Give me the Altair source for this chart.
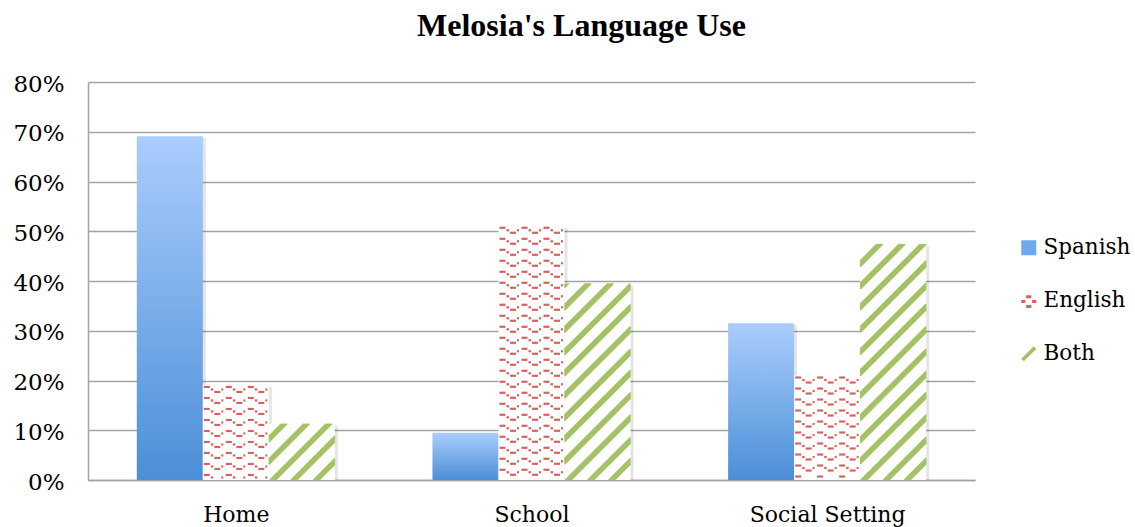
import json

import altair as alt
import pandas as pd

# Survey results (percent of use per setting)
categories = ["Home", "School", "Social Setting"]
series = ["Spanish", "English", "Both"]
spanish = [69.1, 9.5, 31.5]
english = [19.1, 51.1, 21.0]
both = [11.3, 39.5, 47.4]
y_ticks = [0, 10, 20, 30, 40, 50, 60, 70, 80]

rows = []
for ci, cat in enumerate(categories):
    for si, (name, vals) in enumerate(zip(series, [spanish, english, both])):
        rows.append({"cat": cat, "ci": ci, "series": name, "si": si, "value": vals[ci]})
df = pd.DataFrame(rows)

# Plot geometry
W, H = 887, 398
LEFT, TOP = 88, 82
TOTAL_W, TOTAL_H = 1135, 527
YMAX = 80
NCAT = len(categories)
SX = W / NCAT          # pixels per category unit
SY = H / YMAX          # pixels per percent
OUTER = 0.165          # gap before the first bar of a group (category units)
BW = (1 - 2 * OUTER) / len(series)

BLUE_TOP, BLUE_BOTTOM = "#aacdfd", "#4b8fd7"
RED = "#d5625c"
GREEN = "#a3c264"
GRID = "#a3a3a3"
SERIF = "DejaVu Serif"

x_enc = alt.X(
    "xa:Q",
    scale=alt.Scale(domain=[0, NCAT], nice=False, zero=False),
    axis=alt.Axis(
        values=[i + 0.5 for i in range(NCAT)],
        labelExpr=json.dumps(categories) + "[floor(datum.value)]",
        title=None,
        grid=False,
        ticks=False,
        tickSize=0,
        labelPadding=24,
        labelFontSize=22,
    ),
)
y_enc = alt.Y(
    "ya:Q",
    scale=alt.Scale(domain=[0, YMAX], nice=False),
    axis=alt.Axis(
        values=y_ticks,
        labelExpr="datum.value + '%'",
        title=None,
        grid=True,
        ticks=False,
        tickSize=0,
        labelPadding=24,
        labelFontSize=23,
        labelOffset=2,
    ),
)

base = alt.Chart(df).transform_calculate(
    bx=f"datum.ci + {OUTER} + datum.si * {BW}",
    w=f"{BW * SX}",
    h=f"datum.value * {SY}",
)

bars = base.transform_calculate(
    xa="datum.bx", xb=f"datum.bx + {BW}", ya="0", yb="datum.value"
)

shadow = bars.mark_bar(color="#000000", opacity=0.10, xOffset=2, x2Offset=3, y2Offset=2).encode(
    x=x_enc, x2="xb:Q", y=y_enc, y2="yb:Q"
)

spanish_bars = bars.transform_filter("datum.si == 0").mark_bar(
    color=alt.LinearGradient(
        gradient="linear",
        stops=[
            alt.GradientStop(color=BLUE_TOP, offset=0),
            alt.GradientStop(color=BLUE_BOTTOM, offset=1),
        ],
        x1=0, x2=0, y1=0, y2=1,
    )
).encode(x=x_enc, x2="xb:Q", y=y_enc, y2="yb:Q")

white_bars = bars.transform_filter("datum.si > 0").mark_bar(color="#ffffff").encode(
    x=x_enc, x2="xb:Q", y=y_enc, y2="yb:Q"
)

# Diagonal stripes for "Both": thin parallel strokes grouped into bands
STRIPE_PERIOD, STRIPE_WIDTH, STRIPE_STEP = 22, 7, 1.4
stripes = (
    base.transform_filter("datum.si == 2")
    .transform_calculate(cs=f"sequence(-datum.h, datum.w, {STRIPE_STEP})")
    .transform_flatten(["cs"], as_=["c"])
    .transform_filter(f"((datum.c % {STRIPE_PERIOD}) + {STRIPE_PERIOD}) % {STRIPE_PERIOD} < {STRIPE_WIDTH}")
    .transform_calculate(u0="max(0, datum.c)", u1="min(datum.w, datum.h + datum.c)")
    .transform_filter("datum.u1 > datum.u0 + 0.2")
    .transform_calculate(
        xa=f"datum.bx + datum.u0 / {SX}",
        xb=f"datum.bx + datum.u1 / {SX}",
        ya=f"(datum.u0 - datum.c) / {SY}",
        yb=f"(datum.u1 - datum.c) / {SY}",
    )
    .mark_rule(color=GREEN, strokeWidth=1.6, strokeCap="butt")
    .encode(x=x_enc, x2="xb:Q", y=y_enc, y2="yb:Q")
)

# Wavy dashed pattern for "English"
WAVE_W, ROW_H = 22, 11
dashes = (
    base.transform_filter("datum.si == 1")
    .transform_calculate(
        nw=f"floor(datum.w / {WAVE_W})",
        nr=f"floor((datum.h - 2) / {ROW_H}) + 1",
    )
    .transform_calculate(ns="sequence(0, datum.nr * datum.nw * 4)")
    .transform_flatten(["ns"], as_=["n"])
    .transform_calculate(
        r="floor(datum.n / (datum.nw * 4))",
        j="floor(datum.n / 4) % datum.nw",
        e="datum.n % 4",
    )
    .transform_calculate(
        u0=f"1 + datum.j * {WAVE_W} + [0, 7, 10.5, 17.5][datum.e]",
        u1=f"1 + datum.j * {WAVE_W} + [6, 9.5, 16.5, 19.5][datum.e]",
        v=f"datum.h - 2 - datum.r * {ROW_H} - [0, 2.5, 5, 2.5][datum.e]",
    )
    .transform_filter("datum.v >= 1.5")
    .transform_calculate(
        xa=f"datum.bx + datum.u0 / {SX}",
        xb=f"datum.bx + datum.u1 / {SX}",
        ya=f"datum.v / {SY}",
    )
    .mark_rule(color=RED, strokeWidth=2.2, strokeCap="butt")
    .encode(x=x_enc, x2="xb:Q", y=y_enc)
)

# Legend entries
ENGLISH_SYMBOL = (
    "M-1,-0.1 L-0.45,-0.1 L-0.45,0.3 L-1,0.3 Z "
    "M0.45,-0.1 L1,-0.1 L1,0.3 L0.45,0.3 Z "
    "M-0.35,-0.75 L0.35,-0.75 L0.35,-0.35 L-0.35,-0.35 Z "
    "M-0.35,0.55 L0.35,0.55 L0.35,0.95 L-0.35,0.95 Z"
)
BOTH_SYMBOL = "M-1,0.65 L0.65,-1 L1,-0.65 L-0.65,1 Z"
legend_props = dict(
    title=None,
    orient="none",
    legendX=930,
    legendY=155,
    labelFont=SERIF,
    labelFontSize=21.5,
    labelColor="#000000",
    labelOffset=4,
    labelLimit=0,
    symbolSize=225,
    symbolStrokeWidth=0,
    rowPadding=30,
)
legend_layer = (
    alt.Chart(pd.DataFrame({"series": series}))
    .transform_filter("false")
    .mark_point(filled=True, opacity=1)
    .encode(
        x=alt.value(0),
        y=alt.value(0),
        color=alt.Color(
            "series:N",
            scale=alt.Scale(domain=series, range=["#6fa8eb", RED, GREEN]),
            legend=alt.Legend(**legend_props),
        ),
        shape=alt.Shape(
            "series:N",
            scale=alt.Scale(domain=series, range=["square", ENGLISH_SYMBOL, BOTH_SYMBOL]),
            legend=alt.Legend(**legend_props),
        ),
    )
)

chart = (
    alt.layer(shadow, spanish_bars, white_bars, stripes, dashes, legend_layer)
    .properties(
        width=W,
        height=H,
        autosize=alt.AutoSizeParams(type="none"),
        padding={"left": LEFT, "top": TOP, "right": TOTAL_W - LEFT - W, "bottom": TOTAL_H - TOP - H},
        background="#ffffff",
        title=alt.TitleParams(
            text="Melosia's Language Use",
            font="Liberation Serif",
            fontSize=32,
            fontWeight="bold",
            color="#000000",
            anchor="middle",
            frame="group",
            dx=50,
            offset=5,
            baseline="alphabetic",
        ),
    )
    .configure_view(stroke="transparent")
    .configure_axis(
        labelFont=SERIF,
        labelColor="#000000",
        domainColor=GRID,
        domainWidth=1.5,
        gridColor=GRID,
        gridWidth=1.5,
    )
)

chart.save("out.html", embed_options={"renderer": "svg", "actions": False})
